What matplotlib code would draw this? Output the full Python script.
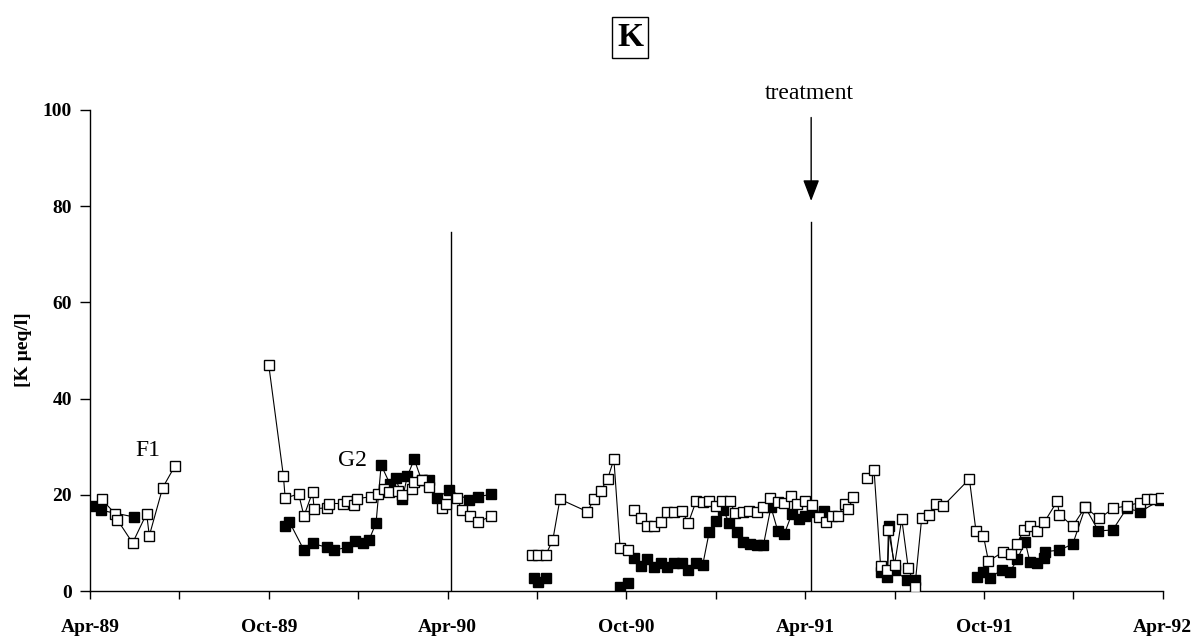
import numpy as np
import matplotlib
matplotlib.use("Agg")
import matplotlib.pyplot as plt

plt.rcParams['font.family'] = ['Liberation Serif', 'DejaVu Serif']

nan = np.nan

# x = months after Apr-89, nan breaks the line between campaigns
open_x = [0.39, 0.84, 0.92, 1.43, 1.90, 1.99, 2.44, 2.85, nan,
          6.0, 6.49, 6.55, 7.0, 7.18, 7.47, 7.52, 7.94, 8.03, 8.48, 8.63, 8.86, 8.95,
          9.42, 9.68, 9.87, 10.04, 10.35, 10.48, 10.82, 10.87, 11.13, 11.39, 11.80,
          11.95, 12.3, 12.5, 12.75, 13.03, 13.44, nan,
          14.82, 15.05, 15.3, 15.53, 15.77, 16.69, 16.91, 17.14, 17.37, 17.58, 17.79,
          18.04, nan,
          18.27, 18.49, 18.68, 18.93, 19.15, 19.37, 19.6, 19.85, 20.08, 20.34, 20.56,
          20.78, 21.02, 21.22, 21.46, 21.66, 21.91, 22.13, 22.38, 22.6, 22.82, 23.08,
          23.3, 23.52, 23.74, 24.0, 24.23, 24.45, 24.69, 24.9, 25.1, 25.32, 25.45,
          25.6, nan,
          26.08, 26.31, 26.53, 26.76, 26.79, 27.0, 27.24, 27.46, 27.68, 27.91, 28.16,
          28.39, 28.63, 29.51, 29.73, 29.98, 30.15, 30.65, 30.9, 31.1, 31.34, 31.54,
          31.79, 32.02, 32.46, 32.53, 32.98, 33.39, 33.87, 34.34, 34.79, 35.23, 35.46,
          35.7, 35.93]
open_y = [19.1, 16.1, 14.8, 10.0, 16.1, 11.5, 21.5, 26.0, nan,
          46.9, 23.9, 19.3, 20.2, 15.6, 20.6, 17.1, 17.3, 18.2, 18.2, 18.8, 17.8, 19.2,
          19.6, 20.1, 21.3, 20.6, 20.9, 20.0, 21.3, 22.7, 23.1, 21.7, 17.2,
          18.2, 19.3, 16.8, 15.6, 14.4, 15.5, nan,
          7.6, 7.6, 7.6, 10.6, 19.1, 16.5, 19.1, 20.9, 23.3, 27.4, 8.9,
          8.5, nan,
          16.8, 15.1, 13.6, 13.6, 14.4, 16.5, 16.5, 16.7, 14.2, 18.7, 18.6,
          18.7, 17.7, 18.7, 18.7, 16.2, 16.5, 16.7, 16.5, 17.5, 19.3, 18.6,
          18.4, 19.8, 18.2, 18.7, 17.9, 15.3, 14.4, 15.5, 15.5, 18.2, 17.0,
          19.5, nan,
          23.6, 25.2, 5.2, 4.4, 12.7, 5.5, 15.0, 4.7, 0.9, 15.2, 15.9,
          18.0, 17.7, 23.3, 12.5, 11.5, 6.2, 8.2, 7.7, 9.8, 12.7, 13.6,
          12.5, 14.3, 18.7, 15.9, 13.5, 17.4, 15.1, 17.2, 17.7, 18.4, 19.1,
          19.2, 19.4]

filled_x = [0.11, 0.36, 1.48, nan,
            6.55, 6.69, 7.18, 7.47, 7.94, 8.19, 8.63, 8.89, 9.15, 9.37, 9.6, 9.77,
            10.07, 10.26, 10.48, 10.65, 10.88, 11.13, 11.36, 11.63, 12.06, 12.73,
            13.03, 13.44, nan,
            14.9, 15.05, 15.3, nan,
            17.79, 18.04, nan,
            18.27, 18.49, 18.7, 18.93, 19.15, 19.37, 19.6, 19.85, 20.08, 20.34, 20.56,
            20.78, 21.0, 21.25, 21.45, 21.7, 21.92, 22.15, 22.37, 22.6, 22.85, 23.08,
            23.3, 23.55, 23.8, 24.0, 24.23, 24.63, nan,
            26.53, 26.76, 26.82, 27.0, 27.4, 27.68, nan,
            29.75, 29.98, 30.2, 30.6, 30.87, 31.12, 31.38, 31.54, 31.79, 32.0, 32.05,
            32.53, 32.98, 33.4, 33.84, 34.32, 34.79, 35.25, 35.9]
filled_y = [17.7, 16.8, 15.4, nan,
            13.5, 14.4, 8.5, 9.9, 9.1, 8.5, 9.1, 10.4, 9.9, 10.7, 14.2, 26.2,
            22.2, 23.6, 19.1, 23.9, 27.4, 23.0, 23.1, 19.3, 21.0, 18.9,
            19.6, 20.1, nan,
            2.8, 1.9, 2.8, nan,
            0.9, 1.7, nan,
            6.8, 5.2, 6.6, 4.9, 5.8, 5.1, 5.8, 5.8, 4.4, 5.8, 5.4,
            12.3, 14.6, 16.8, 14.2, 12.3, 10.2, 9.8, 9.6, 9.6, 17.5, 12.5,
            11.9, 16.0, 15.0, 15.5, 16.5, 16.7, nan,
            4.0, 3.0, 13.5, 4.4, 2.3, 2.3, nan,
            3.0, 4.0, 2.8, 4.4, 4.0, 6.6, 10.3, 6.1, 5.9, 6.8, 8.2,
            8.5, 9.8, 17.4, 12.5, 12.7, 17.2, 16.5, 18.9]

tick_months = list(range(0, 37, 3))
tick_labels = ['Apr-89', '', 'Oct-89', '', 'Apr-90', '', 'Oct-90', '', 'Apr-91', '',
               'Oct-91', '', 'Apr-92']

fig = plt.figure(figsize=(12, 6.39), dpi=100)
ax = fig.add_axes([0.075, 0.075, 0.894, 0.753])

ax.plot(filled_x, filled_y, color='black', lw=0.8, marker='s', ms=7,
        mfc='black', mec='black', mew=1, zorder=3)
ax.plot(open_x, open_y, color='black', lw=0.8, marker='s', ms=7,
        mfc='white', mec='black', mew=1, zorder=4)

# vertical separators at Apr-90 and Apr-91
ax.plot([12.1, 12.1], [0, 74.6], color='black', lw=1, zorder=2)
ax.plot([24.2, 24.2], [0, 76.7], color='black', lw=1, zorder=2)

ax.annotate('', xy=(24.2, 80.5), xytext=(24.2, 99),
            arrowprops=dict(arrowstyle='-|>,head_length=1.3,head_width=0.5',
                            color='black', lw=1))
ax.text(24.15, 101.3, 'treatment', ha='center', va='bottom', fontsize=17)

ax.text(1.95, 29.3, 'F1', ha='center', va='center', fontsize=17)
ax.text(8.8, 27.2, 'G2', ha='center', va='center', fontsize=17)

fig.text(630 / 1200, 1 - 37 / 639, 'K', ha='center', va='center', fontsize=24,
         fontweight='bold',
         bbox=dict(boxstyle='square,pad=0.15', fc='white', ec='black', lw=1))

ax.set_xlim(0, 36)
ax.set_ylim(0, 100)
ax.set_xticks(tick_months)
ax.set_xticklabels(tick_labels, fontsize=14, fontweight='bold')
ax.set_yticks([0, 20, 40, 60, 80, 100])
ax.set_yticklabels(['0', '20', '40', '60', '80', '100'], fontsize=14, fontweight='bold')
ax.tick_params(axis='x', direction='out', length=6, width=1, pad=14)
ax.tick_params(axis='y', direction='out', length=7, width=1, pad=6)

ax.spines['top'].set_visible(False)
ax.spines['right'].set_visible(False)
ax.spines['left'].set_linewidth(1)
ax.spines['bottom'].set_linewidth(1)

ax.set_ylabel('[K µeq/l]', fontsize=14, fontweight='bold')
ax.yaxis.set_label_coords(-58 / 1073, 241 / 481)

fig.savefig('out.png', dpi=100)
